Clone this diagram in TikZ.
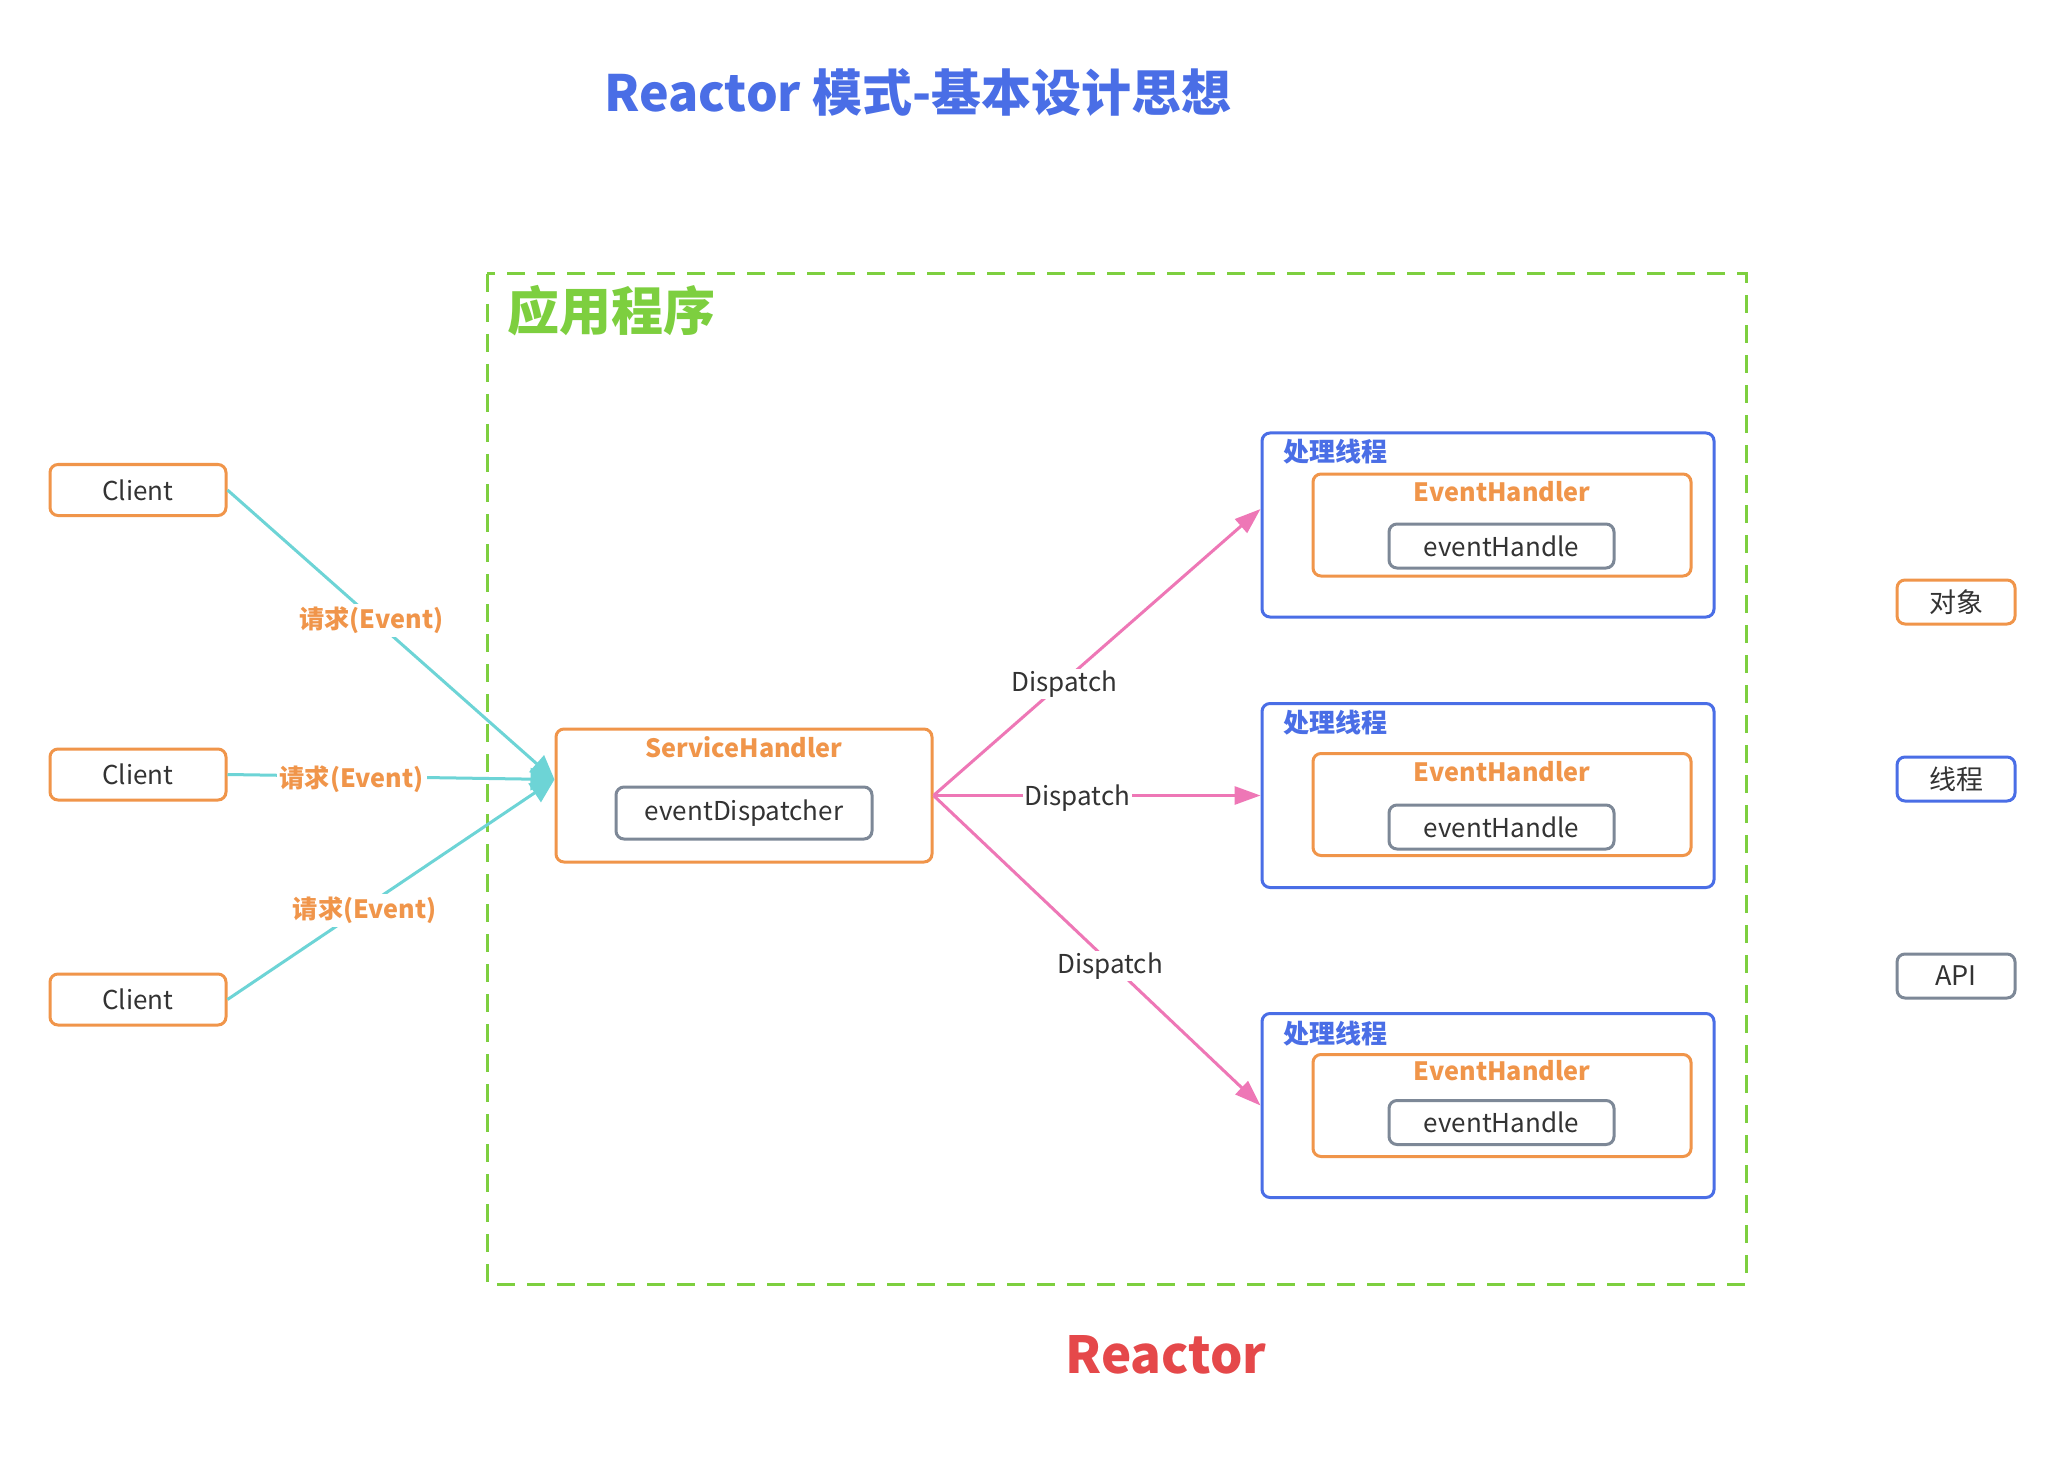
\documentclass[tikz,border=0pt]{standalone}
\usepackage{fontspec}
\setmainfont{Noto Sans CJK SC}
\usetikzlibrary{arrows.meta}
\definecolor{corange}{HTML}{F0954A}
\definecolor{ccyan}{HTML}{6DD4D6}
\definecolor{cpink}{HTML}{EE77B6}
\definecolor{cblue}{HTML}{4A6EE6}
\definecolor{cgray}{HTML}{7D8897}
\definecolor{cgreen}{HTML}{7DCF3F}
\definecolor{cred}{HTML}{E5484A}
\definecolor{ctext}{HTML}{333333}
\begin{document}
\begin{tikzpicture}[x=0.5pt,y=-0.5pt,
  txt/.style={font=\fontsize{13}{15}\selectfont, text=ctext},
  obox/.style={draw=corange, line width=1.5pt, rounded corners=4pt, fill=white, inner sep=0pt},
  tbox/.style={draw=cblue, line width=1.5pt, rounded corners=4pt, fill=white, inner sep=0pt},
  gbox/.style={draw=cgray, line width=1.5pt, rounded corners=4pt, fill=white, inner sep=0pt},
  clientbox/.style={obox, txt, minimum width=88pt, minimum height=25.5pt},
  legbox/.style={minimum width=59pt, minimum height=22pt, font=\fontsize{13.5}{15}\selectfont, text=ctext},
  ehbox/.style={obox, minimum width=189pt, minimum height=51pt},
  evbox/.style={gbox, txt, minimum width=112.5pt, minimum height=22pt},
  thbox/.style={tbox, minimum width=226pt, minimum height=92pt},
  thlabel/.style={anchor=west, inner sep=0pt, font=\fontsize{13}{15}\selectfont\bfseries, text=cblue},
  ehlabel/.style={inner sep=0pt, font=\fontsize{12.6}{15}\selectfont\bfseries, text=corange},
  req/.style={ccyan, line width=1.5pt, -{Triangle[length=12pt,width=11pt]}},
  reqlabel/.style={fill=white, inner sep=1.5pt, yshift=-1.5pt, font=\fontsize{12.6}{15}\selectfont\bfseries, text=corange},
  disp/.style={cpink, line width=1.5pt, -{Triangle[length=13pt,width=9pt]}},
  displabel/.style={fill=white, inner sep=1pt, yshift=-1.5pt, txt},
]
\fill[white] (0,0) rectangle (2064,1470);
\path[use as bounding box] (0,0) rectangle (2064,1470);

% titles
\node[font=\fontsize{25}{29}\selectfont\bfseries, text=cblue] (title) at (918,93) {Reactor 模式-基本设计思想};
\node[font=\fontsize{25.5}{29}\selectfont\bfseries, text=cred] (reactor) at (1166,1355) {Reactor};

% application frame
\draw[cgreen, line width=1.5pt, dash pattern=on 9pt off 6pt] (487,274) rectangle (1746,1284);
\node[anchor=west, inner sep=0pt, font=\fontsize{26}{30}\selectfont\bfseries, text=cgreen] (app) at (507,311) {应用程序};

% clients
\node[clientbox] (c1) at (138,490) {Client};
\node[clientbox] (c2) at (138,774.5) {Client};
\node[clientbox] (c3) at (138,999.5) {Client};

% service handler
\node[obox, minimum width=188pt, minimum height=66.5pt] (sh) at (744,795.5) {};
\node[ehlabel] (shl) at (744,747) {ServiceHandler};
\node[gbox, txt, minimum width=128pt, minimum height=26pt] (ed) at (744,813) {eventDispatcher};

% thread boxes
\node[thbox] (t1) at (1488,525) {};
\node[thlabel] (t1l) at (1283,452) {处理线程};
\node[ehbox] (e1) at (1502,525) {};
\node[ehlabel] (e1l) at (1502,491.5) {EventHandler};
\node[evbox] (v1) at (1501.5,546) {eventHandle};

\node[thbox] (t2) at (1488,795.5) {};
\node[thlabel] (t2l) at (1283,722.5) {处理线程};
\node[ehbox] (e2) at (1502,804.5) {};
\node[ehlabel] (e2l) at (1502,772) {EventHandler};
\node[evbox] (v2) at (1501.5,827) {eventHandle};

\node[thbox] (t3) at (1488,1105.5) {};
\node[thlabel] (t3l) at (1283,1033.5) {处理线程};
\node[ehbox] (e3) at (1502,1105.5) {};
\node[ehlabel] (e3l) at (1502,1071) {EventHandler};
\node[evbox] (v3) at (1501.5,1122.5) {eventHandle};

% legend
\node[obox, legbox] (lg1) at (1956,602) {对象};
\node[tbox, legbox] (lg2) at (1956,779) {线程};
\node[gbox, legbox] (lg3) at (1956,976) {API};

% request connectors
\coordinate (shin) at ([yshift=8pt]sh.west);
\draw[req] (c1.east) -- node[reqlabel, pos=0.44] {请求(Event)} (shin);
\draw[req] (c2.east) -- node[reqlabel, pos=0.38] {请求(Event)} (shin);
\draw[req] (c3.east) -- node[reqlabel, pos=0.42] {请求(Event)} (shin);

% dispatch connectors
\coordinate (t1in) at ([yshift=8pt]t1.west);
\draw[disp] (sh.east) -- node[displabel, pos=0.40] {Dispatch} (t1in);
\draw[disp] (sh.east) -- node[displabel, pos=0.44] {Dispatch} (t2.west);
\draw[disp] (sh.east) -- node[displabel, pos=0.54] {Dispatch} (t3.west);
\end{tikzpicture}
\end{document}
